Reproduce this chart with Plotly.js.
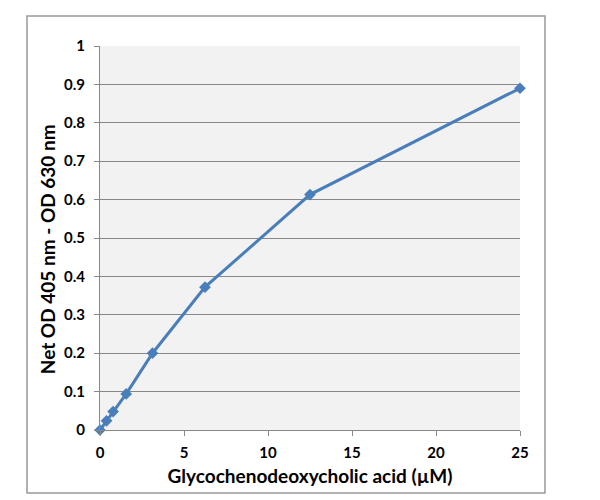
<!DOCTYPE html>
<html><head><meta charset="utf-8">
<script src="https://cdn.plot.ly/plotly-3.0.1.min.js"></script>
<style>html,body{margin:0;padding:0;background:#fff}</style>
</head><body>
<div id="chart" style="width:600px;height:500px"></div>
<script>
const concentration = [0, 0.39, 0.78, 1.56, 3.125, 6.25, 12.5, 25];
const netOD = [0, 0.024, 0.048, 0.094, 0.2, 0.372, 0.613, 0.89];
const yTicks = [0, 0.1, 0.2, 0.3, 0.4, 0.5, 0.6, 0.7, 0.8, 0.9, 1];
const yTickText = ['0', '0.1', '0.2', '0.3', '0.4', '0.5', '0.6', '0.7', '0.8', '0.9', '1'];
const xTicks = [0, 5, 10, 15, 20, 25];
const xTitle = 'Glycochenodeoxycholic acid (µM)';
const yTitle = 'Net OD 405 nm - OD 630 nm';

const trace = {
  x: concentration, y: netOD, type: 'scatter', mode: 'lines+markers',
  line: {color: '#4a7ebb', width: 3},
  marker: {symbol: 'diamond', size: 9, color: '#4a7ebb'},
  cliponaxis: false, showlegend: false
};
const layout = {
  width: 600, height: 500,
  margin: {l: 100, r: 80, t: 46, b: 70},
  paper_bgcolor: '#ffffff', plot_bgcolor: '#f2f2f2',
  font: {family: 'Lato, "Open Sans", sans-serif', color: '#000'},
  xaxis: {
    range: [0, 25], tickvals: xTicks, ticks: 'outside', ticklen: 5, tickcolor: '#888',
    showgrid: false, zeroline: false, showline: true, linecolor: '#888', linewidth: 1,
    ticklabelstandoff: 4,
    tickfont: {size: 15, family: 'Lato, sans-serif', weight: 'bold'},
    title: {text: xTitle, font: {size: 19, family: 'Lato, sans-serif', weight: 'bold'}, standoff: 9}
  },
  yaxis: {
    range: [0, 1], tickvals: yTicks, ticktext: yTickText, ticks: 'outside', ticklen: 5, tickcolor: '#888',
    showgrid: true, gridcolor: '#888', gridwidth: 1, zeroline: false, showline: true, linecolor: '#888', linewidth: 1,
    ticklabelstandoff: 6,
    tickfont: {size: 15, family: 'Lato, sans-serif', weight: 'bold'}
  },
  annotations: [{
    text: yTitle, textangle: -90, xref: 'paper', yref: 'paper',
    x: -0.126, y: 0.471, xanchor: 'center', yanchor: 'middle', showarrow: false,
    font: {size: 19, family: 'Lato, sans-serif', weight: 'bold', color: '#000'}
  }],
  shapes: [{
    type: 'rect', xref: 'paper', yref: 'paper',
    x0: -0.1738, x1: 1.0595, y0: -0.164, y1: 1.078,
    line: {color: '#999', width: 1.5}, fillcolor: 'rgba(0,0,0,0)', layer: 'below'
  }]
};
Plotly.newPlot('chart', [trace], layout, {displayModeBar: false, staticPlot: true});
</script>
</body></html>
